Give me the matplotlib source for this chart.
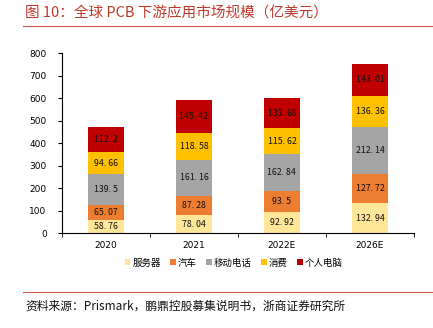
import matplotlib.pyplot as plt
import numpy as np
from matplotlib.lines import Line2D
from matplotlib.patches import Patch

plt.rcParams['font.family'] = ['Noto Sans CJK SC', 'DejaVu Sans']

years = ['2020', '2021', '2022E', '2026E']
series_names = ['服务器', '汽车', '移动电话', '消费', '个人电脑']
server = [58.76, 78.04, 92.92, 132.94]
auto = [65.07, 87.28, 93.5, 127.72]
mobile = [139.5, 161.16, 162.84, 212.14]
consumer = [94.66, 118.58, 115.62, 136.36]
pc = [112.2, 145.42, 133.68, 143.01]
colors = ['#FFE699', '#ED7D31', '#A5A5A5', '#FFC000', '#C00000']

fig = plt.figure(figsize=(4.33, 3.28), dpi=100)
ax = fig.add_axes([0.143, 0.2896, 0.813, 0.5488])

x = np.arange(len(years))
bottom = np.zeros(len(years))
for name, vals, c in zip(series_names, [server, auto, mobile, consumer, pc], colors):
    vals = np.array(vals)
    ax.bar(x, vals, width=0.4, bottom=bottom, color=c, label=name)
    for xi, b, v in zip(x, bottom, vals):
        ax.text(xi, b + v / 2, str(v).replace('.', '. '), ha='center', va='center',
                fontsize=6.3, color='#111111')
    bottom += vals

ax.set_xlim(-0.5, 3.5)
ax.set_ylim(0, 800)
ax.set_yticks(range(0, 801, 100))
ax.set_xticks(x, years)
ax.set_xticks(np.arange(-0.5, 3.6, 1), minor=True)
ax.tick_params(axis='x', which='major', length=0, pad=6, labelsize=6.5)
ax.tick_params(axis='x', which='minor', length=3, direction='out')
ax.tick_params(axis='y', length=3, labelsize=6.5, pad=8)
for lbl in ax.get_xticklabels() + ax.get_yticklabels():
    lbl.set_family(['DejaVu Sans'])
for s in ['top', 'right']:
    ax.spines[s].set_visible(False)

handles = [Patch(facecolor=c, edgecolor='none') for c in colors]
fig.legend(handles, series_names, loc='center', bbox_to_anchor=(0.54, 0.198),
           ncol=5, frameon=False, fontsize=6.8, handlelength=0.6, handleheight=0.6,
           handletextpad=0.2, columnspacing=1.0)

fig.text(25 / 433, 1 - 13 / 328, '图 10：全球 PCB 下游应用市场规模（亿美元）',
         color='#C0392B', fontsize=10.5, ha='left', va='center')
fig.add_artist(Line2D([23 / 433, 1], [1 - 26 / 328] * 2, color='#D9534F', lw=0.8))
fig.add_artist(Line2D([23 / 433, 1], [1 - 292 / 328] * 2, color='#D9534F', lw=0.8))
fig.text(25 / 433, 1 - 306 / 328, '资料来源：Prismark，鹏鼎控股募集说明书，浙商证券研究所',
         color='#111111', fontsize=8.5, ha='left', va='center')

fig.savefig('out.png', dpi=100)
